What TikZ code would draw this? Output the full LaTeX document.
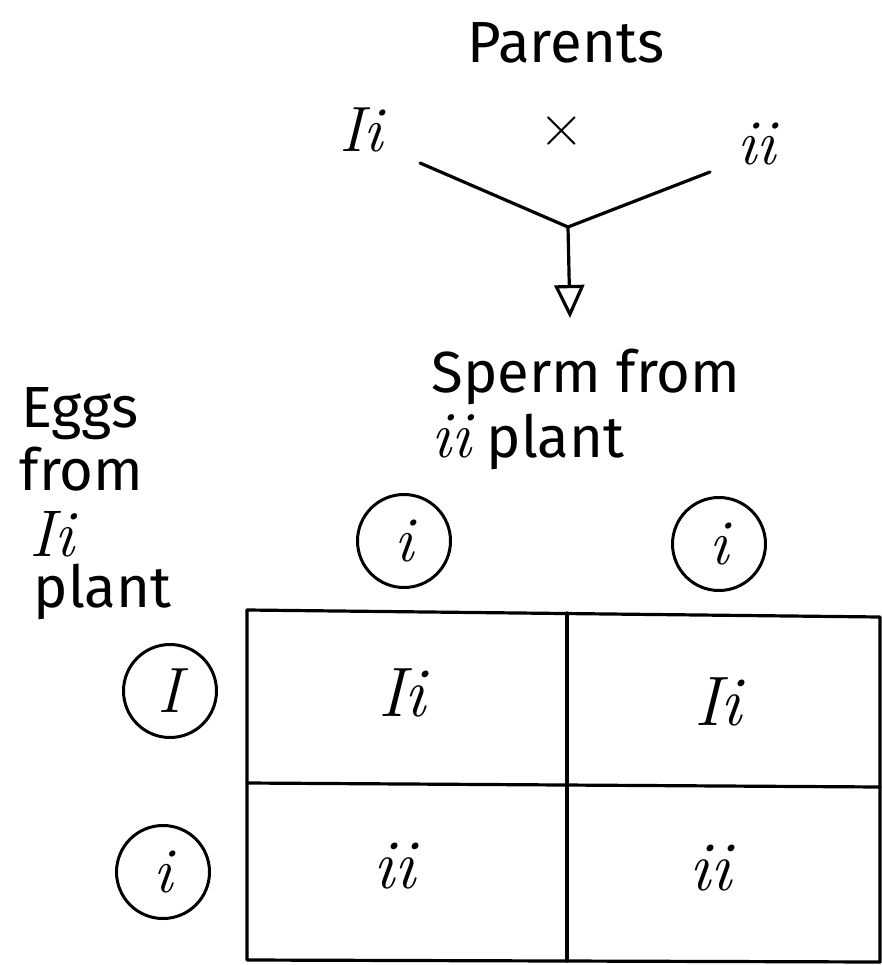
\documentclass[tikz,border=0pt]{standalone}
\usepackage{fontspec}
\setsansfont{Fira Sans}
\usetikzlibrary{arrows.meta}
\newcommand{\gene}[1]{{\fontsize{66}{60}\selectfont\rmfamily\itshape #1}}

\begin{document}
\begin{tikzpicture}[
        x=1pt, y=-1pt,
    every path/.style={line width=3.2pt, line cap=round, line join=round},
    lbl/.style={font=\fontsize{58}{60}\selectfont\sffamily, inner sep=0pt, anchor=base west},
    allele/.style={font=\fontsize{70}{70}\selectfont\itshape, inner sep=0pt},
    gamete/.style={circle, draw, line width=3pt, minimum size=93pt, inner sep=0pt,
        font=\fontsize{64}{64}\selectfont\itshape}
]
    \useasboundingbox (0,0) rectangle (882,965);

    % parents and the cross
    \node [lbl, anchor=base] (par) at (566,63) {Parents};
    \node [lbl, font=\fontsize{64}{64}\selectfont\itshape] (pa) at (338,152) {Ii};
    \node [lbl, font=\fontsize{64}{64}\selectfont\itshape] (pb) at (736,165) {ii};
    \node [inner sep=0pt, font=\fontsize{62}{62}\selectfont] (x) at (562,131) {×};

    \coordinate (pl) at (420,163);
    \coordinate (pr) at (710,172);
    \coordinate (j) at (568,227);
    \coordinate (tip) at (570,318);

    \draw (pl) -- (j) -- (pr);
    \draw [-{Triangle[open,length=33pt,width=30pt]}] (j) -- (tip);

    % gamete labels
    \node [lbl] (sp1) at (430,392) {Sperm from};
    \node [lbl] (sp2) at (430,457) {\gene{ii} plant};

    \node [lbl] (eg1) at (20,427) {Eggs};
    \node [lbl] (eg2) at (18,490) {from};
    \node [lbl] (eg3) at (28,556) {\gene{Ii}};
    \node [lbl] (eg4) at (32,607) {plant};

    % gametes
    \node [gamete] (su) at (404,541) {i};
    \node [gamete] (sv) at (719,544) {i};
    \node [gamete] (eu) at (170,691) {I};
    \node [gamete] (ev) at (163,872) {i};

    % the square
    \coordinate (nw) at (247,610);
    \coordinate (ne) at (880,617);
    \coordinate (sw) at (247,960);
    \coordinate (se) at (880,962);
    \coordinate (mn) at (567,613);
    \coordinate (ms) at (567,961);
    \coordinate (mw) at (247,783);
    \coordinate (me) at (880,787);

    \draw (nw) -- (ne) -- (se) -- (sw) -- cycle;
    \draw (mn) -- (ms);
    \draw (mw) -- (me);

    \node [allele] (c11) at (402,693) {Ii};
    \node [allele] (c12) at (718,702) {Ii};
    \node [allele] (c21) at (394,866) {ii};
    \node [allele] (c22) at (710,868) {ii};
\end{tikzpicture}
\end{document}
